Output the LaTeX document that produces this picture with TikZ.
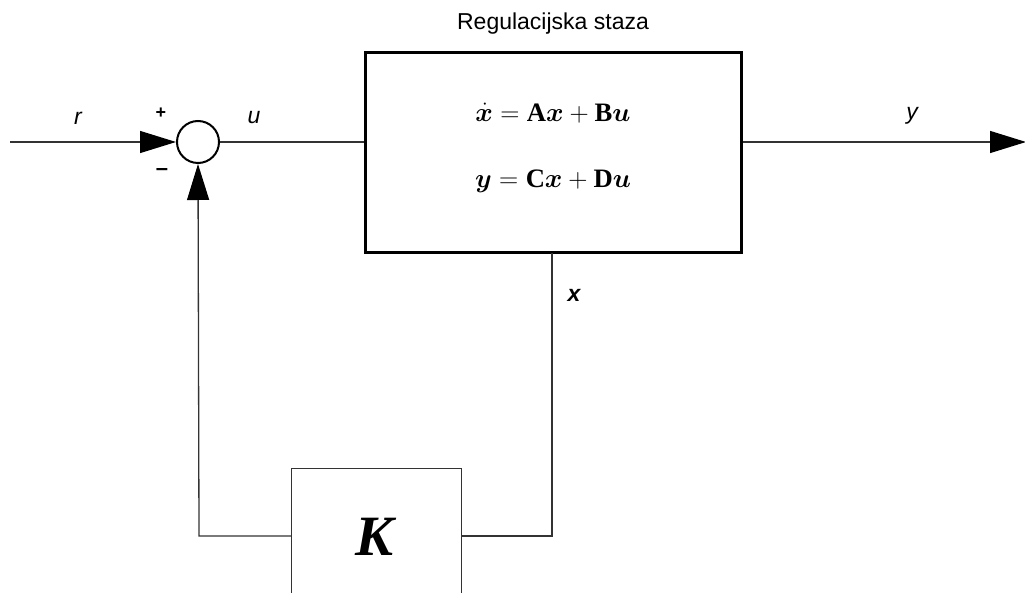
\documentclass[tikz,border=0pt]{standalone}
\usepackage{fontspec}
\usepackage{amsmath}
\usepackage{bm}
\usepackage{graphicx}
\setsansfont{Liberation Sans}
\setmainfont{Liberation Serif}
\usetikzlibrary{arrows.meta}
\begin{document}
\begin{tikzpicture}[x=1pt,y=-1pt,
  wire/.style={line width=1.3pt,draw=black!80},
  bigtip/.style={-{Triangle[length=36pt,width=22pt,color=black]}},
  lbl/.style={font=\sffamily\itshape\fontsize{23}{26}\selectfont},
  eqn/.style={font=\fontsize{24.88}{30}\selectfont}]
\useasboundingbox (0,0) rectangle (1025,593);
\clip (0,0) rectangle (1025,593);
% nodes
\node[circle,draw,line width=2pt,minimum size=42pt,inner sep=0pt] (sum) at (198,142) {};
\node[draw,line width=3pt,minimum width=376pt,minimum height=200pt,inner sep=0pt] (plant) at (553.5,153) {};
\node[draw,line width=1.3pt,draw=black!80,minimum width=170pt,minimum height=160pt,inner sep=0pt,anchor=north west] (K) at (291,468) {};
\node[font=\bfseries\itshape\fontsize{57}{60}\selectfont] (Klbl) at (375,537) {K};
\coordinate (rin) at (10,142);
\coordinate (yout) at (1026,142);
\coordinate (xtap) at (552,253);
\coordinate (xcorner) at (552,536);
\coordinate (fbcorner) at (199,536);
% texts
\node[font=\sffamily\fontsize{23}{26}\selectfont] (title) at (553,24) {Regulacijska staza};
\node[eqn] (eq1) at (553,113) {\scalebox{1.07}{$\dot{\bm{x}}=\mathbf{A}\bm{x}+\mathbf{B}\bm{u}$}};
\node[eqn] (eq2) at (553,181) {\scalebox{1.07}{$\bm{y}=\mathbf{C}\bm{x}+\mathbf{D}\bm{u}$}};
\node[lbl] (rl) at (78,118) {r};
\node[lbl] (ul) at (254,118) {u};
\node[lbl] (yl) at (912,116) {y};
\node[font=\sffamily\bfseries\itshape\fontsize{23}{26}\selectfont] (xl) at (574,295) {x};
\node[font=\sffamily\bfseries\fontsize{18}{20}\selectfont] (plus) at (161,113) {+};
\node[font=\sffamily\bfseries\fontsize{22}{22}\selectfont] (minus) at (162,172) {–};
% connectors
\draw[wire,bigtip] (rin) -- (sum.west);
\draw[wire] (sum.east) -- (plant.west |- sum.east);
\draw[wire,bigtip] (plant.east |- yout) -- (yout);
\draw[wire] (xtap) -- (xcorner) -- (K.east |- xcorner);
\draw[wire,bigtip] (K.west |- fbcorner) -- (fbcorner) -- (sum.south);
\end{tikzpicture}
\end{document}
